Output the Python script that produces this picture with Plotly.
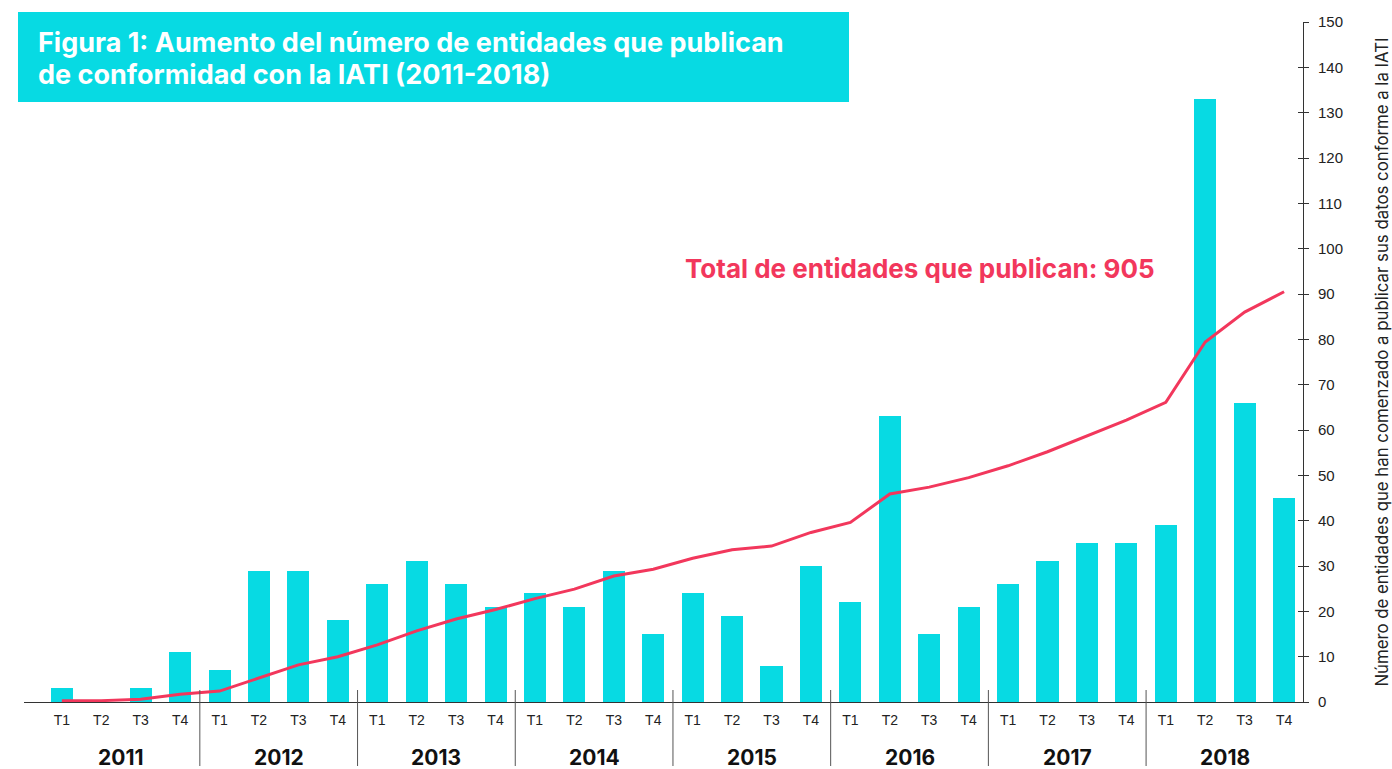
import plotly.graph_objects as go

# ---- data ----
years = ["2011", "2012", "2013", "2014", "2015", "2016", "2017", "2018"]
quarters = ["T1", "T2", "T3", "T4"]
new_publishers = [3, 0, 3, 11,
                  7, 29, 29, 18,
                  26, 31, 26, 21,
                  24, 21, 29, 15,
                  24, 19, 8, 30,
                  22, 63, 15, 21,
                  26, 31, 35, 35,
                  39, 133, 66, 45]
# cumulative total of publishers (shown at 1/10 scale on the same axis)
cumulative_scaled = [0.3, 0.3, 0.6, 1.7,
                     2.4, 5.3, 8.2, 10.0,
                     12.6, 15.7, 18.3, 20.4,
                     22.8, 24.9, 27.8, 29.3,
                     31.7, 33.6, 34.4, 37.4,
                     39.6, 45.9, 47.4, 49.5,
                     52.1, 55.2, 58.7, 62.2,
                     66.1, 79.4, 86.0, 90.5]
y_ticks = list(range(0, 151, 10))
title_lines = ["Figura 1: Aumento del número de entidades que publican",
               "de conformidad con la IATI (2011-2018)"]
total_label = "Total de entidades que publican: 905"
y_title = "Número de entidades que han comenzado a publicar sus datos conforme a la IATI"

CYAN = "#07DAE3"
RED = "#F2375C"
FONT = "Liberation Sans"
FONT2 = "Inter"

n = len(new_publishers)
xpos = list(range(n))
tick_text = [q for _ in years for q in quarters]

fig = go.Figure()
fig.add_trace(go.Bar(x=xpos, y=new_publishers, marker=dict(color=CYAN, line=dict(width=0)),
                     width=0.56, yaxis="y", showlegend=False))
fig.add_trace(go.Scatter(x=xpos, y=cumulative_scaled, mode="lines",
                         line=dict(color=RED, width=3), yaxis="y2", showlegend=False))

W, H = 1392, 769
L, R, T, B = 24, 89, 22, 67
ph = H - T - B

def py(pix):
    return (H - B - pix) / ph

def px(pix):
    return (pix - L) / (W - L - R)

shapes = []
# year separators
for k in range(1, len(years)):
    shapes.append(dict(type="line", xref="x", yref="paper", x0=4 * k - 0.5, x1=4 * k - 0.5,
                       y0=py(690), y1=py(766), line=dict(color="#555", width=1)))
# title box
shapes.append(dict(type="rect", xref="paper", yref="paper", x0=px(18), x1=px(849),
                   y0=py(102), y1=py(12), fillcolor=CYAN, line=dict(width=0), layer="above"))

annotations = []
for k, yr in enumerate(years):
    annotations.append(dict(x=4 * k + 1.5, y=py(757), xref="x", yref="paper", text="<b>%s</b>" % yr,
                            showarrow=False, xanchor="center", yanchor="middle",
                            font=dict(family=FONT2, size=21, color="#111")))
for i, line in enumerate(title_lines):
    annotations.append(dict(x=px(36), y=py(42 + 33 * i), xref="paper", yref="paper",
                            text="<b>" + line + "</b>", showarrow=False, xanchor="left",
                            yanchor="middle", align="left",
                            font=dict(family=FONT2, size=27, color="white")))
annotations.append(dict(x=px(683), y=py(268), xref="paper", yref="paper", text="<b>" + total_label + "</b>",
                        showarrow=False, xanchor="left", yanchor="middle",
                        font=dict(family=FONT2, size=26, color=RED)))

fig.update_layout(
    width=W, height=H,
    margin=dict(l=L, r=R, t=T, b=B, autoexpand=False),
    plot_bgcolor="white", paper_bgcolor="white",
    font=dict(family=FONT, color="#222"),
    xaxis=dict(range=[-0.96, 31.48], tickvals=xpos, ticktext=tick_text, ticks="",
               showgrid=False, zeroline=False, showline=True, linecolor="#333", linewidth=1,
               tickfont=dict(size=14, color="#222"), ticklabelstandoff=5, automargin=False),
    yaxis=dict(range=[0, 150], side="right", tickvals=y_ticks, ticks="outside", ticklen=5,
               tickcolor="#333", showgrid=False, zeroline=False, showline=True, linecolor="#333",
               linewidth=1, tickfont=dict(size=15, color="#222"), ticklabelstandoff=6,
               automargin=False,
               title=dict(text=y_title, font=dict(family=FONT2, size=16.8, color="#222"), standoff=34)),
    yaxis2=dict(range=[0, 150], overlaying="y", side="right", tickvals=y_ticks, ticks="inside",
                ticklen=5, tickcolor="#333", showticklabels=False, showgrid=False, zeroline=False,
                showline=False, automargin=False),
    shapes=shapes, annotations=annotations, bargap=0,
)

fig.write_html("out.html", config={"displayModeBar": False},
               post_script="document.body.style.margin='0px';")
